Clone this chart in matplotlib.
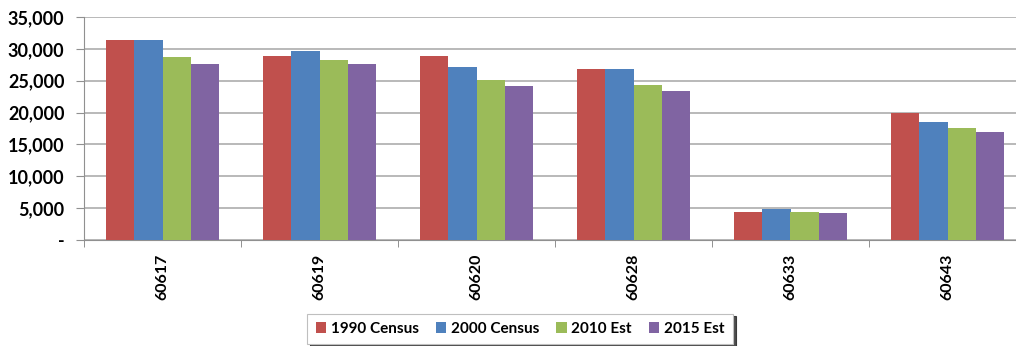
import numpy as np
import matplotlib.pyplot as plt
from matplotlib.ticker import FuncFormatter

# -----------------------------------------------------------------
# Данные
zips = ['60617', '60619', '60620', '60628', '60633', '60643']
census_1990 = [31400, 28900, 28900, 26900, 4400, 19900]
census_2000 = [31400, 29600, 27100, 26900, 4850, 18500]
est_2010 = [28700, 28300, 25100, 24400, 4400, 17600]
est_2015 = [27650, 27650, 24200, 23350, 4200, 17000]

series = [census_1990, census_2000, est_2010, est_2015]
labels = ['1990 Census', '2000 Census', '2010 Est', '2015 Est']
colors = ['#C0504D', '#4F81BD', '#9BBB59', '#8064A2']

plt.rcParams['font.family'] = ['Lato', 'DejaVu Sans']

# -----------------------------------------------------------------
fig = plt.figure(figsize=(10.16, 3.46), dpi=100)
ax = fig.add_axes([84 / 1016, 106 / 346, 942 / 1016, 223 / 346])

x = np.arange(len(zips))
bw = 0.181
for i, (vals, lab, col) in enumerate(zip(series, labels, colors)):
    ax.bar(x + (i - 1.5) * bw, vals, bw, color=col, label=lab, zorder=3)

ax.set_xlim(-0.5, len(zips) - 0.5)
ax.set_ylim(0, 35000)
ax.set_yticks(np.arange(0, 35001, 5000))
ax.yaxis.set_major_formatter(
    FuncFormatter(lambda v, p: '-' if v == 0 else f'{int(v):,}'))

# категории
ax.set_xticks(x)
ax.set_xticklabels(zips, rotation=90, fontsize=11.5, fontweight='bold')
ax.set_xticks(np.arange(-0.5, len(zips)), minor=True)
ax.tick_params(axis='x', which='major', length=0, pad=10)
ax.tick_params(axis='x', which='minor', length=5, color='#808080')
ax.tick_params(axis='y', length=6, color='#909090', labelsize=13, pad=8)
for t in ax.get_yticklabels():
    t.set_fontweight('bold')

ax.yaxis.grid(True, color='#A6A6A6', linewidth=1.1, zorder=0)
for s in ['top', 'right']:
    ax.spines[s].set_visible(False)
ax.spines['left'].set_color('#909090')
ax.spines['bottom'].set_color('#909090')

leg = fig.legend(loc='center', bbox_to_anchor=(520 / 1016, 17 / 346),
                 ncol=4, frameon=True, fancybox=False,
                 shadow={'color': '#202020', 'alpha': 0.8},
                 handlelength=0.7, handleheight=0.7,
                 handletextpad=0.3, columnspacing=1.1, borderpad=0.55,
                 prop={'weight': 'bold', 'size': 11})
leg.get_frame().set_edgecolor('#BFBFBF')
leg.get_frame().set_linewidth(0.8)

fig.savefig('out.png', dpi=100)
